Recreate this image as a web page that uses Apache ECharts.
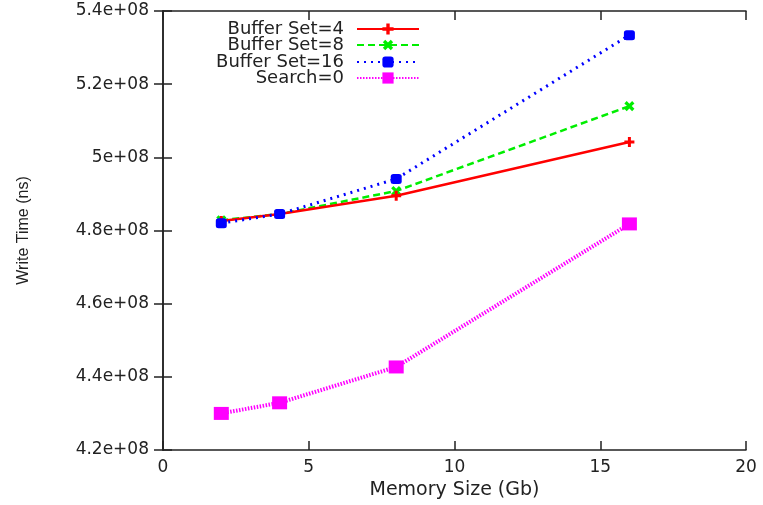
<!DOCTYPE html>
<html><head><meta charset="utf-8">
<script src="https://cdn.jsdelivr.net/npm/echarts@6/dist/echarts.min.js"></script>
<style>html,body{margin:0;padding:0;background:#fff}#c{width:763px;height:505px}</style>
</head><body><div id="c"></div>
<script>
var memorySizes = [2, 4, 8, 16];
var bufferSet4 = [4.826e8, 4.845e8, 4.895e8, 5.042e8];
var bufferSet8 = [4.828e8, 4.845e8, 4.908e8, 5.140e8];
var bufferSet16 = [4.820e8, 4.845e8, 4.941e8, 5.334e8];
var search0 = [4.300e8, 4.329e8, 4.427e8, 4.818e8];
var seriesNames = ['Buffer Set=4', 'Buffer Set=8', 'Buffer Set=16', 'Search=0'];

function pairs(ys){ return memorySizes.map(function(x,i){ return [x, ys[i]]; }); }
function fmtY(v){ var m = Math.round(v/1e7)/10; return m + 'e+08'; }

var plus = 'path://M3.5,0H6.5V3.5H10V6.5H6.5V10H3.5V6.5H0V3.5H3.5Z';
var font = 'DejaVu Sans, sans-serif';
var font2 = 'Liberation Sans, Arial, sans-serif';
var txt = '#222';
var axisLine = {show:true, lineStyle:{color:'#222', width:1.5}};
var tick = {show:true, inside:true, length:9, lineStyle:{color:'#222', width:1.5}};

var chart = echarts.init(document.getElementById('c'), null, {renderer:'canvas'});
var legendRows = [20, 36, 53, 69];
var legends = seriesNames.map(function(n, i){
  return {
    data:[n], orient:'vertical', align:'right', right:343, top:legendRows[i],
    itemWidth:62, itemHeight:14, padding:0,
    textStyle:{fontFamily:font, fontSize:18, color:txt, padding:[0,8,0,0]}
  };
});

chart.setOption({
  animation:false,
  backgroundColor:'#fff',
  legend: legends,
  grid:{left:163, right:17, top:11, bottom:55, containLabel:false},
  xAxis:[{
    type:'value', min:0, max:20, interval:5,
    name:'Memory Size (Gb)', nameLocation:'middle', nameGap:24,
    nameTextStyle:{fontFamily:font, fontSize:19, color:txt},
    axisLine:axisLine, axisTick:tick, splitLine:{show:false},
    axisLabel:{fontFamily:font, fontSize:17, color:txt, margin:9}
  },{
    type:'value', min:0, max:20, interval:5, position:'top',
    axisLine:axisLine, axisTick:tick, splitLine:{show:false}, axisLabel:{show:false}
  }],
  yAxis:[{
    type:'value', min:4.2e8, max:5.4e8, interval:2e7,
    name:'Write Time (ns)', nameLocation:'middle', nameGap:131, nameRotate:90,
    nameTextStyle:{fontFamily:font2, fontSize:16, color:txt},
    axisLine:axisLine, axisTick:tick, splitLine:{show:false},
    axisLabel:{fontFamily:font, fontSize:17, color:txt, margin:14, formatter:fmtY}
  },{
    type:'value', min:4.2e8, max:5.4e8, interval:2e7, position:'right',
    axisLine:axisLine, axisTick:tick, splitLine:{show:false}, axisLabel:{show:false}
  }],
  series:[
    {name:seriesNames[0], type:'line', data:pairs(bufferSet4), color:'#ff0000',
     symbol:plus, symbolSize:10, showAllSymbol:true,
     lineStyle:{color:'#ff0000', width:2.5, type:'solid'}, itemStyle:{color:'#ff0000'}, z:4},
    {name:seriesNames[1], type:'line', data:pairs(bufferSet8), color:'#00ee00',
     symbol:plus, symbolSize:11, symbolRotate:45,
     lineStyle:{color:'#00ee00', width:2.5, type:[7,4]}, itemStyle:{color:'#00ee00'}, z:3},
    {name:seriesNames[2], type:'line', data:pairs(bufferSet16), color:'#0000ff',
     symbol:'roundRect', symbolSize:[11,10],
     lineStyle:{color:'#0000ff', width:3, type:[2,5]}, itemStyle:{color:'#0000ff'}, z:5},
    {name:seriesNames[3], type:'line', data:pairs(search0), color:'#ff00ff',
     symbol:'rect', symbolSize:[15,13],
     lineStyle:{color:'#ff00ff', width:4, type:[1.5,1.5]}, itemStyle:{color:'#ff00ff'}, z:2}
  ]
});
</script></body></html>
